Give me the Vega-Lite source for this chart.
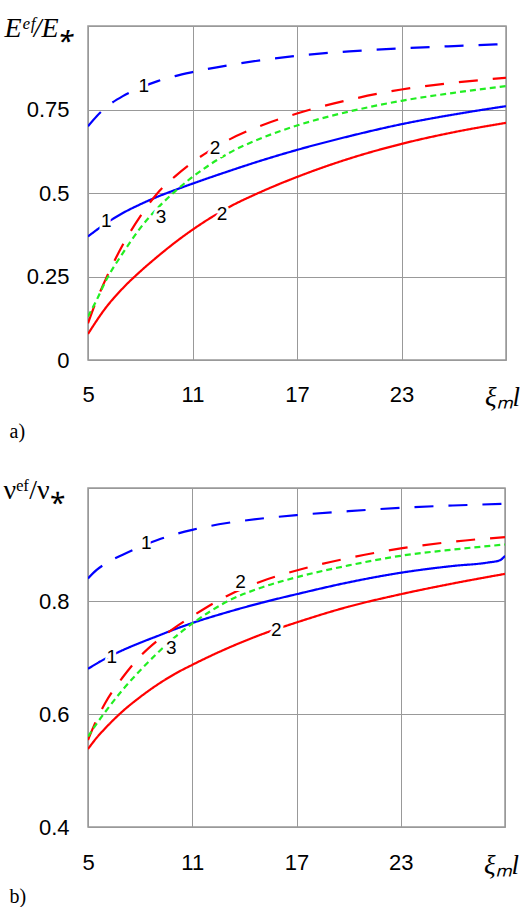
{
  "$schema": "https://vega.github.io/schema/vega-lite/v6.json",
  "padding": {"left": 2, "top": 13, "right": 0, "bottom": 0},
  "spacing": 33,
  "config": {
    "view": {"stroke": "#999999", "strokeWidth": 1.5},
    "axis": {
      "gridColor": "#999999", "gridWidth": 1, "gridOpacity": 1,
      "domain": false, "ticks": false, "labelFlush": false,
      "labelFont": "Liberation Sans", "labelFontSize": 22, "labelColor": "#000000"
    }
  },
  "datasets": {
    "topCurves": [
      {"x": 5, "y": 0.70, "s": "bd"}, {"x": 5.5, "y": 0.73, "s": "bd"}, {"x": 6, "y": 0.755, "s": "bd"},
      {"x": 7, "y": 0.79, "s": "bd"}, {"x": 8, "y": 0.815, "s": "bd"}, {"x": 9, "y": 0.835, "s": "bd"},
      {"x": 10, "y": 0.85, "s": "bd"}, {"x": 11, "y": 0.862, "s": "bd"}, {"x": 13, "y": 0.882, "s": "bd"},
      {"x": 15, "y": 0.898, "s": "bd"}, {"x": 17, "y": 0.911, "s": "bd"}, {"x": 20, "y": 0.924, "s": "bd"},
      {"x": 23, "y": 0.933, "s": "bd"}, {"x": 26, "y": 0.94, "s": "bd"}, {"x": 29, "y": 0.946, "s": "bd"},
      {"x": 5, "y": 0.37, "s": "bs"}, {"x": 6, "y": 0.408, "s": "bs"}, {"x": 7, "y": 0.44, "s": "bs"},
      {"x": 8, "y": 0.466, "s": "bs"}, {"x": 9, "y": 0.489, "s": "bs"}, {"x": 10, "y": 0.509, "s": "bs"},
      {"x": 11, "y": 0.528, "s": "bs"}, {"x": 13, "y": 0.564, "s": "bs"}, {"x": 15, "y": 0.598, "s": "bs"},
      {"x": 17, "y": 0.629, "s": "bs"}, {"x": 20, "y": 0.67, "s": "bs"}, {"x": 23, "y": 0.706, "s": "bs"},
      {"x": 26, "y": 0.735, "s": "bs"}, {"x": 29, "y": 0.76, "s": "bs"},
      {"x": 5, "y": 0.11, "s": "rd"}, {"x": 5.5, "y": 0.18, "s": "rd"}, {"x": 6, "y": 0.24, "s": "rd"},
      {"x": 7, "y": 0.345, "s": "rd"}, {"x": 8, "y": 0.43, "s": "rd"}, {"x": 9, "y": 0.5, "s": "rd"},
      {"x": 10, "y": 0.55, "s": "rd"}, {"x": 11, "y": 0.592, "s": "rd"}, {"x": 12, "y": 0.627, "s": "rd"},
      {"x": 13, "y": 0.657, "s": "rd"}, {"x": 15, "y": 0.703, "s": "rd"}, {"x": 17, "y": 0.738, "s": "rd"},
      {"x": 20, "y": 0.779, "s": "rd"}, {"x": 23, "y": 0.81, "s": "rd"}, {"x": 26, "y": 0.83, "s": "rd"},
      {"x": 29, "y": 0.845, "s": "rd"},
      {"x": 5, "y": 0.078, "s": "rs"}, {"x": 6, "y": 0.155, "s": "rs"}, {"x": 7, "y": 0.215, "s": "rs"},
      {"x": 8, "y": 0.265, "s": "rs"}, {"x": 9, "y": 0.31, "s": "rs"}, {"x": 10, "y": 0.352, "s": "rs"},
      {"x": 11, "y": 0.39, "s": "rs"}, {"x": 13, "y": 0.455, "s": "rs"}, {"x": 15, "y": 0.505, "s": "rs"},
      {"x": 17, "y": 0.548, "s": "rs"}, {"x": 20, "y": 0.603, "s": "rs"}, {"x": 23, "y": 0.647, "s": "rs"},
      {"x": 26, "y": 0.682, "s": "rs"}, {"x": 29, "y": 0.71, "s": "rs"},
      {"x": 5, "y": 0.13, "s": "g"}, {"x": 5.5, "y": 0.18, "s": "g"}, {"x": 6, "y": 0.235, "s": "g"},
      {"x": 7, "y": 0.32, "s": "g"}, {"x": 8, "y": 0.395, "s": "g"}, {"x": 9, "y": 0.455, "s": "g"},
      {"x": 10, "y": 0.505, "s": "g"}, {"x": 11, "y": 0.548, "s": "g"}, {"x": 12, "y": 0.585, "s": "g"},
      {"x": 13, "y": 0.617, "s": "g"}, {"x": 15, "y": 0.665, "s": "g"}, {"x": 17, "y": 0.702, "s": "g"},
      {"x": 20, "y": 0.744, "s": "g"}, {"x": 23, "y": 0.776, "s": "g"}, {"x": 26, "y": 0.80, "s": "g"},
      {"x": 29, "y": 0.82, "s": "g"}
    ],
    "topLabels": [
      {"x": 8.2, "y": 0.82, "t": "1"},
      {"x": 6.05, "y": 0.416, "t": "1"},
      {"x": 12.3, "y": 0.635, "t": "2"},
      {"x": 9.2, "y": 0.428, "t": "3"},
      {"x": 12.7, "y": 0.437, "t": "2"}
    ],
    "bottomCurves": [
      {"x": 5, "y": 0.84, "s": "bd"}, {"x": 5.5, "y": 0.855, "s": "bd"}, {"x": 6, "y": 0.866, "s": "bd"},
      {"x": 7, "y": 0.882, "s": "bd"}, {"x": 8, "y": 0.896, "s": "bd"}, {"x": 9, "y": 0.908, "s": "bd"},
      {"x": 10, "y": 0.918, "s": "bd"}, {"x": 11, "y": 0.926, "s": "bd"}, {"x": 13, "y": 0.938, "s": "bd"},
      {"x": 15, "y": 0.946, "s": "bd"}, {"x": 17, "y": 0.952, "s": "bd"}, {"x": 20, "y": 0.959, "s": "bd"},
      {"x": 23, "y": 0.965, "s": "bd"}, {"x": 26, "y": 0.969, "s": "bd"}, {"x": 29, "y": 0.972, "s": "bd"},
      {"x": 5, "y": 0.68, "s": "bs"}, {"x": 6, "y": 0.698, "s": "bs"}, {"x": 7, "y": 0.713, "s": "bs"},
      {"x": 8, "y": 0.726, "s": "bs"}, {"x": 9, "y": 0.738, "s": "bs"}, {"x": 10, "y": 0.75, "s": "bs"},
      {"x": 11, "y": 0.761, "s": "bs"}, {"x": 13, "y": 0.78, "s": "bs"}, {"x": 15, "y": 0.797, "s": "bs"},
      {"x": 17, "y": 0.812, "s": "bs"}, {"x": 20, "y": 0.833, "s": "bs"}, {"x": 23, "y": 0.85, "s": "bs"},
      {"x": 26, "y": 0.862, "s": "bs"}, {"x": 28, "y": 0.868, "s": "bs"}, {"x": 28.7, "y": 0.872, "s": "bs"},
      {"x": 29, "y": 0.88, "s": "bs"},
      {"x": 5, "y": 0.554, "s": "rd"}, {"x": 5.5, "y": 0.59, "s": "rd"}, {"x": 6, "y": 0.62, "s": "rd"},
      {"x": 7, "y": 0.665, "s": "rd"}, {"x": 8, "y": 0.702, "s": "rd"}, {"x": 9, "y": 0.73, "s": "rd"},
      {"x": 10, "y": 0.753, "s": "rd"}, {"x": 11, "y": 0.773, "s": "rd"}, {"x": 13, "y": 0.809, "s": "rd"},
      {"x": 15, "y": 0.835, "s": "rd"}, {"x": 17, "y": 0.854, "s": "rd"}, {"x": 20, "y": 0.876, "s": "rd"},
      {"x": 23, "y": 0.893, "s": "rd"}, {"x": 26, "y": 0.905, "s": "rd"}, {"x": 29, "y": 0.913, "s": "rd"},
      {"x": 5, "y": 0.538, "s": "rs"}, {"x": 5.5, "y": 0.558, "s": "rs"}, {"x": 6, "y": 0.575, "s": "rs"},
      {"x": 7, "y": 0.605, "s": "rs"}, {"x": 8, "y": 0.63, "s": "rs"}, {"x": 9, "y": 0.652, "s": "rs"},
      {"x": 10, "y": 0.671, "s": "rs"}, {"x": 11, "y": 0.687, "s": "rs"}, {"x": 13, "y": 0.716, "s": "rs"},
      {"x": 15, "y": 0.741, "s": "rs"}, {"x": 17, "y": 0.762, "s": "rs"}, {"x": 20, "y": 0.79, "s": "rs"},
      {"x": 23, "y": 0.812, "s": "rs"}, {"x": 26, "y": 0.831, "s": "rs"}, {"x": 29, "y": 0.848, "s": "rs"},
      {"x": 5, "y": 0.56, "s": "g"}, {"x": 5.5, "y": 0.583, "s": "g"}, {"x": 6, "y": 0.604, "s": "g"},
      {"x": 7, "y": 0.643, "s": "g"}, {"x": 8, "y": 0.677, "s": "g"}, {"x": 9, "y": 0.708, "s": "g"},
      {"x": 10, "y": 0.736, "s": "g"}, {"x": 11, "y": 0.76, "s": "g"}, {"x": 12, "y": 0.781, "s": "g"},
      {"x": 13, "y": 0.799, "s": "g"}, {"x": 15, "y": 0.824, "s": "g"}, {"x": 17, "y": 0.842, "s": "g"},
      {"x": 20, "y": 0.863, "s": "g"}, {"x": 23, "y": 0.88, "s": "g"}, {"x": 26, "y": 0.891, "s": "g"},
      {"x": 29, "y": 0.90, "s": "g"}
    ],
    "bottomLabels": [
      {"x": 8.36, "y": 0.903, "t": "1"},
      {"x": 6.37, "y": 0.701, "t": "1"},
      {"x": 13.78, "y": 0.834, "t": "2"},
      {"x": 9.8, "y": 0.717, "t": "3"},
      {"x": 15.83, "y": 0.749, "t": "2"}
    ]
  },
  "vconcat": [
    {
      "width": 418,
      "height": 334,
      "layer": [
        {
          "data": {"name": "topCurves"},
          "mark": {"type": "line", "strokeWidth": 2.2, "interpolate": "monotone", "clip": true},
          "encoding": {
            "x": {
              "field": "x", "type": "quantitative",
              "scale": {"domain": [5, 29], "nice": false, "zero": false},
              "axis": {
                "values": [5, 11, 17, 23, 29], "labelPadding": 24,
                "labelExpr": "datum.value == 29 ? 'ξₘl' : '' + datum.value",
                "labelFont": {"condition": {"test": "datum.value == 29", "value": "Liberation Serif"}, "value": "Liberation Sans"},
                "labelFontStyle": {"condition": {"test": "datum.value == 29", "value": "italic"}, "value": "normal"},
                "labelFontSize": {"condition": {"test": "datum.value == 29", "value": 27}, "value": 22},
                "labelOffset": {"condition": {"test": "datum.value == 29", "value": -4}, "value": 0},
                "title": "a)", "titleFont": "Liberation Serif", "titleFontSize": 20, "titleFontWeight": "normal",
                "titleAlign": "left", "titleBaseline": "middle", "titleX": -79, "titleY": 71
              }
            },
            "y": {
              "field": "y", "type": "quantitative",
              "scale": {"domain": [0, 1], "nice": false},
              "axis": {
                "values": [0, 0.25, 0.5, 0.75, 1], "labelPadding": 19,
                "labelExpr": "datum.value == 1 ? '' : '' + datum.value",
                "title": "Eᵉᶠ/E⁎", "titleFont": "Liberation Serif", "titleFontStyle": "italic",
                "titleFontSize": 28, "titleFontWeight": "normal", "titleAngle": 0,
                "titleAlign": "left", "titleBaseline": "alphabetic", "titleX": -84, "titleY": 10
              }
            },
            "detail": {"field": "s"},
            "color": {
              "field": "s", "type": "nominal", "legend": null,
              "scale": {"domain": ["bd", "bs", "rd", "rs", "g"], "range": ["#0000ff", "#0000ff", "#ff0000", "#ff0000", "#22ee22"]}
            },
            "strokeDash": {
              "field": "s", "type": "nominal", "legend": null,
              "scale": {"domain": ["bd", "bs", "rd", "rs", "g"], "range": [[19, 15], [1, 0], [19, 15], [1, 0], [6, 4]]}
            }
          }
        },
        {
          "data": {"name": "topLabels"},
          "mark": {"type": "text", "font": "Liberation Sans", "fontSize": 19, "fill": "white", "stroke": "white", "strokeWidth": 6},
          "encoding": {
            "x": {"field": "x", "type": "quantitative"},
            "y": {"field": "y", "type": "quantitative"},
            "text": {"field": "t"}
          }
        },
        {
          "data": {"name": "topLabels"},
          "mark": {"type": "text", "font": "Liberation Sans", "fontSize": 19, "color": "black"},
          "encoding": {
            "x": {"field": "x", "type": "quantitative"},
            "y": {"field": "y", "type": "quantitative"},
            "text": {"field": "t"}
          }
        }
      ]
    },
    {
      "width": 417,
      "height": 339,
      "layer": [
        {
          "data": {"name": "bottomCurves"},
          "mark": {"type": "line", "strokeWidth": 2.2, "interpolate": "monotone", "clip": true},
          "encoding": {
            "x": {
              "field": "x", "type": "quantitative",
              "scale": {"domain": [5, 29], "nice": false, "zero": false},
              "axis": {
                "values": [5, 11, 17, 23, 29], "labelPadding": 25,
                "labelExpr": "datum.value == 29 ? 'ξₘl' : '' + datum.value",
                "labelFont": {"condition": {"test": "datum.value == 29", "value": "Liberation Serif"}, "value": "Liberation Sans"},
                "labelFontStyle": {"condition": {"test": "datum.value == 29", "value": "italic"}, "value": "normal"},
                "labelFontSize": {"condition": {"test": "datum.value == 29", "value": 27}, "value": 22},
                "labelOffset": {"condition": {"test": "datum.value == 29", "value": -4}, "value": 0},
                "title": "b)", "titleFont": "Liberation Serif", "titleFontSize": 20, "titleFontWeight": "normal",
                "titleAlign": "left", "titleBaseline": "middle", "titleX": -79, "titleY": 69
              }
            },
            "y": {
              "field": "y", "type": "quantitative",
              "scale": {"domain": [0.4, 1], "nice": false, "zero": false},
              "axis": {
                "values": [0.4, 0.6, 0.8, 1], "labelPadding": 19,
                "labelExpr": "datum.value == 1 ? '' : '' + datum.value",
                "title": "νᵉᶠ/ν⁎", "titleFont": "Liberation Serif",
                "titleFontSize": 28, "titleFontWeight": "normal", "titleAngle": 0,
                "titleAlign": "left", "titleBaseline": "alphabetic", "titleX": -85, "titleY": 10
              }
            },
            "detail": {"field": "s"},
            "color": {
              "field": "s", "type": "nominal", "legend": null,
              "scale": {"domain": ["bd", "bs", "rd", "rs", "g"], "range": ["#0000ff", "#0000ff", "#ff0000", "#ff0000", "#22ee22"]}
            },
            "strokeDash": {
              "field": "s", "type": "nominal", "legend": null,
              "scale": {"domain": ["bd", "bs", "rd", "rs", "g"], "range": [[19, 15], [1, 0], [19, 15], [1, 0], [6, 4]]}
            }
          }
        },
        {
          "data": {"name": "bottomLabels"},
          "mark": {"type": "text", "font": "Liberation Sans", "fontSize": 19, "fill": "white", "stroke": "white", "strokeWidth": 6},
          "encoding": {
            "x": {"field": "x", "type": "quantitative"},
            "y": {"field": "y", "type": "quantitative"},
            "text": {"field": "t"}
          }
        },
        {
          "data": {"name": "bottomLabels"},
          "mark": {"type": "text", "font": "Liberation Sans", "fontSize": 19, "color": "black"},
          "encoding": {
            "x": {"field": "x", "type": "quantitative"},
            "y": {"field": "y", "type": "quantitative"},
            "text": {"field": "t"}
          }
        }
      ]
    }
  ]
}
